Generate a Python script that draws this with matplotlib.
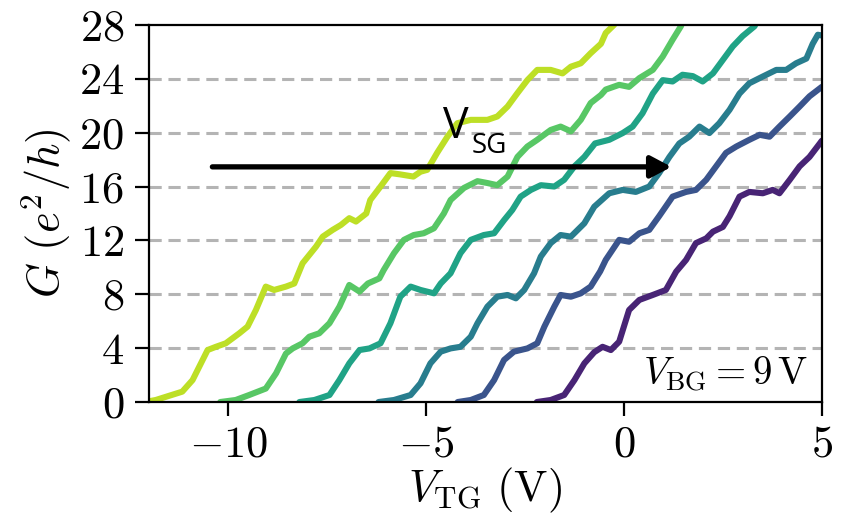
import numpy as np
import matplotlib
matplotlib.use("Agg")
import matplotlib.pyplot as plt

plt.rcParams['font.family'] = 'serif'
plt.rcParams['font.serif'] = ['cmr10']
plt.rcParams['mathtext.fontset'] = 'cm'
plt.rcParams['axes.formatter.use_mathtext'] = True

# conductance traces G(V_TG) for six side-gate voltages, V_BG = 9 V
vtg_1 = [-12.1, -11.83, -11.16, -10.9, -10.52, -10.31, -10.06, -9.72, -9.51, -9.3, -9.05, -8.84,
         -8.54, -8.33, -8.12, -7.78, -7.61, -7.36, -7.15, -6.94, -6.77, -6.51, -6.41, -6.15,
         -5.9, -5.65, -5.32, -5.14, -4.97, -4.72, -4.46, -4.21, -3.87, -3.45, -3.2, -2.94,
         -2.7, -2.44, -2.19, -1.85, -1.55, -1.34, -1.09, -0.84, -0.58, -0.46, -0.25, -0.1]
g_1 = [0.0, 0.15, 0.77, 1.63, 3.86, 4.1, 4.36, 5.1, 5.6, 6.83, 8.57, 8.32,
       8.57, 8.8, 10.3, 11.54, 12.28, 12.78, 13.15, 13.65, 13.4, 14.0, 15.0, 16.0,
       17.0, 16.9, 16.74, 17.1, 17.24, 18.5, 19.7, 20.7, 20.95, 20.95, 21.2, 21.94,
       22.9, 23.9, 24.66, 24.66, 24.4, 24.9, 25.15, 25.9, 26.6, 27.4, 28.0, 28.8]

vtg_2 = [-10.2, -9.81, -9.47, -9.05, -8.79, -8.54, -8.37, -8.12, -7.95, -7.7, -7.44, -7.19,
         -6.94, -6.68, -6.47, -6.18, -6.07, -5.81, -5.56, -5.31, -5.06, -4.8, -4.55, -4.38,
         -4.04, -3.7, -3.45, -3.2, -2.94, -2.69, -2.44, -2.19, -1.85, -1.6, -1.34, -1.09,
         -0.84, -0.58, -0.46, -0.12, 0.13, 0.39, 0.73, 0.98, 1.23, 1.44, 1.55]
g_2 = [0.0, 0.15, 0.52, 1.0, 2.13, 3.6, 3.98, 4.36, 4.85, 5.1, 5.85, 7.08,
       8.69, 8.2, 8.8, 9.18, 9.8, 11.05, 12.04, 12.4, 12.53, 12.9, 14.0, 15.0,
       15.9, 16.4, 16.26, 16.1, 16.74, 18.2, 18.97, 19.47, 20.2, 20.45, 20.1, 20.95,
       22.2, 22.8, 23.2, 23.55, 23.4, 24.05, 24.66, 25.65, 26.9, 27.9, 28.8]

vtg_3 = [-8.2, -7.82, -7.44, -7.19, -6.94, -6.68, -6.43, -6.15, -5.9, -5.65, -5.39, -5.14,
         -4.8, -4.63, -4.38, -4.13, -3.87, -3.54, -3.28, -3.03, -2.82, -2.61, -2.35, -2.1,
         -1.76, -1.51, -1.25, -1.0, -0.73, -0.37, -0.03, 0.22, 0.47, 0.73, 0.98, 1.23,
         1.48, 1.74, 1.99, 2.25, 2.5, 2.75, 3.0, 3.3, 3.45]
g_3 = [0.0, 0.15, 0.52, 1.63, 2.87, 3.86, 3.98, 4.36, 5.85, 7.82, 8.57, 8.32,
       8.07, 8.8, 9.56, 11.05, 12.04, 12.4, 12.53, 13.5, 14.26, 15.25, 15.75, 16.1,
       16.0, 16.5, 17.5, 18.2, 19.2, 19.47, 19.97, 20.45, 21.44, 22.9, 23.9, 23.8,
       24.3, 24.2, 23.8, 24.4, 25.4, 26.4, 27.17, 27.9, 28.8]

vtg_4 = [-6.2, -5.81, -5.39, -5.14, -4.89, -4.63, -4.38, -4.13, -3.87, -3.7, -3.45, -3.2,
         -2.94, -2.73, -2.52, -2.27, -2.1, -1.85, -1.6, -1.34, -1.0, -0.75, -0.37, -0.03,
         0.3, 0.64, 0.89, 1.15, 1.4, 1.65, 1.91, 2.16, 2.41, 2.67, 2.92, 3.17,
         3.51, 3.85, 4.1, 4.35, 4.61, 4.77, 4.9, 5.03]
g_4 = [0.0, 0.15, 0.52, 1.39, 2.87, 3.74, 3.98, 4.1, 4.85, 5.85, 7.08, 7.82,
       7.95, 7.7, 8.32, 9.56, 10.8, 11.8, 12.4, 12.28, 13.27, 14.5, 15.5, 15.75,
       15.6, 16.0, 17.0, 18.2, 19.2, 19.7, 20.45, 19.97, 20.7, 21.7, 22.9, 23.67,
       24.17, 24.66, 24.66, 25.15, 25.5, 26.6, 27.27, 27.2]

vtg_5 = [-4.2, -3.87, -3.54, -3.28, -3.03, -2.78, -2.44, -2.19, -2.01, -1.76, -1.6, -1.34,
         -1.09, -0.84, -0.6, -0.46, -0.12, 0.13, 0.39, 0.64, 0.89, 1.23, 1.57, 1.82,
         2.08, 2.33, 2.58, 2.84, 3.17, 3.43, 3.68, 3.93, 4.19, 4.44, 4.69, 5.0]
g_5 = [0.0, 0.15, 0.52, 1.63, 3.12, 3.74, 3.98, 4.36, 5.6, 7.08, 7.95, 7.82,
       8.07, 8.57, 9.7, 10.55, 12.04, 11.9, 12.53, 12.78, 13.8, 15.25, 15.6, 15.75,
       16.5, 17.5, 18.5, 18.97, 19.47, 19.84, 19.7, 20.45, 21.2, 21.94, 22.7, 23.4]

vtg_6 = [-2.2, -1.85, -1.51, -1.25, -1.0, -0.75, -0.54, -0.33, -0.12, 0.13, 0.39, 0.73,
         1.06, 1.32, 1.57, 1.82, 2.08, 2.25, 2.5, 2.67, 2.92, 3.17, 3.51, 3.76,
         3.93, 4.19, 4.44, 4.69, 4.95, 5.0]
g_6 = [0.0, 0.15, 0.52, 1.63, 2.87, 3.7, 4.1, 3.86, 4.48, 6.83, 7.58, 7.95,
       8.32, 9.68, 10.55, 11.8, 12.15, 12.65, 13.0, 13.8, 15.25, 15.6, 15.5, 15.75,
       15.5, 16.5, 17.5, 18.2, 19.2, 19.4]

traces = [(vtg_1, g_1), (vtg_2, g_2), (vtg_3, g_3), (vtg_4, g_4), (vtg_5, g_5), (vtg_6, g_6)]
cmap_pos = [0.9, 0.74, 0.58, 0.42, 0.26, 0.1]

y_ticks = [0, 4, 8, 12, 16, 20, 24, 28]
x_ticks = [-10, -5, 0, 5]

fig = plt.figure(figsize=(8.42, 5.19), dpi=100)
ax = fig.add_axes([0.177, 0.2254, 0.799, 0.7266])

for yv in y_ticks[1:-1]:
    ax.axhline(yv, color='#b4b4b4', lw=2.2, ls=(0, (4.0, 2.2)), zorder=1)

for (x, g), c in zip(traces, cmap_pos):
    ax.plot(x, g, color=plt.cm.viridis(c), lw=4.4, solid_joinstyle='round',
            solid_capstyle='round', zorder=2)

ax.set_xlim(-12, 5)
ax.set_ylim(0, 28)
ax.set_xticks(x_ticks)
ax.set_yticks(y_ticks)
ax.tick_params(direction='out', length=10, width=1.6, labelsize=32)
ax.tick_params(axis='x', pad=7)
ax.tick_params(axis='y', pad=8)
for s in ax.spines.values():
    s.set_linewidth(1.6)

ax.set_xlabel(r'$V_{\mathrm{TG}}\ (\mathrm{V})$', fontsize=32, labelpad=0)
ax.set_ylabel(r'$G\ (e^2/h)$', fontsize=32, labelpad=4)

ax.text(4.66, 1.25, r'$V_{\mathrm{BG}} = 9\,\mathrm{V}$', fontsize=28,
        ha='right', va='baseline', zorder=4)

# side-gate sweep direction
ax.annotate('', xy=(1.2, 17.46), xytext=(-10.4, 17.46),
            arrowprops=dict(arrowstyle='-|>,head_length=0.62,head_width=0.33',
                            lw=3.8, color='black', shrinkA=0, shrinkB=0,
                            mutation_scale=20), zorder=5)
ax.text(-4.56, 19.61, 'V', family='Open Sans', fontsize=31, ha='left', va='baseline', zorder=5)
ax.text(-3.85, 18.5, 'SG', family='Open Sans', fontsize=20, ha='left', va='baseline', zorder=5)

fig.savefig('out.png', dpi=100)
